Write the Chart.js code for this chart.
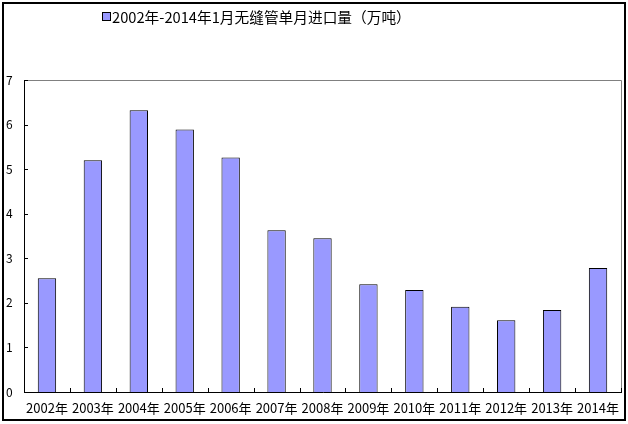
<!DOCTYPE html>
<html>
<head>
<meta charset="utf-8">
<script src="https://cdn.jsdelivr.net/npm/chart.js@4/dist/chart.umd.min.js"></script>
<style>
  html, body { margin: 0; padding: 0; background: #ffffff; }
  #wrap { width: 628px; height: 424px; position: relative; }
</style>
</head>
<body>
<div id="wrap"><canvas id="c" width="628" height="424"></canvas></div>
<script>
// Monthly seamless pipe imports, January of each year (10k tonnes)
const years = ['2002年', '2003年', '2004年', '2005年', '2006年', '2007年', '2008年',
               '2009年', '2010年', '2011年', '2012年', '2013年', '2014年'];
const imports = [2.55, 5.20, 6.32, 5.89, 5.26, 3.63, 3.45, 2.42, 2.29, 1.91, 1.61, 1.84, 2.78];
const seriesName = '2002年-2014年1月无缝管单月进口量（万吨）';
const yTicks = [0, 1, 2, 3, 4, 5, 6, 7];

const FONT = '"Noto Sans CJK SC", "Noto Sans", sans-serif';
const BAR_FILL = '#9999ff';

// Outer frame, plot-area edges, inward tick marks and the legend
const decor = {
  id: 'decor',
  afterDraw(chart) {
    const ctx = chart.ctx;
    const a = chart.chartArea;
    const y = chart.scales.y;
    ctx.save();
    // outer frame
    ctx.strokeStyle = '#000';
    ctx.lineWidth = 2;
    ctx.strokeRect(3, 3, 622, 417);
    // grey top and right edges of the plot area
    ctx.lineWidth = 1;
    ctx.strokeStyle = '#808080';
    ctx.beginPath();
    ctx.moveTo(Math.round(a.left) + 0.5, Math.round(a.top) + 0.5);
    ctx.lineTo(Math.round(a.right) + 0.5, Math.round(a.top) + 0.5);
    ctx.lineTo(Math.round(a.right) + 0.5, Math.round(a.bottom) + 0.5);
    ctx.stroke();
    // black axes
    ctx.strokeStyle = '#000';
    ctx.beginPath();
    ctx.moveTo(Math.round(a.left) + 0.5, Math.round(a.top));
    ctx.lineTo(Math.round(a.left) + 0.5, Math.round(a.bottom) + 0.5);
    ctx.lineTo(Math.round(a.right) + 1, Math.round(a.bottom) + 0.5);
    ctx.stroke();
    // y ticks pointing into the plot
    ctx.beginPath();
    yTicks.forEach(v => {
      const py = Math.round(y.getPixelForValue(v)) + 0.5;
      ctx.moveTo(Math.round(a.left), py);
      ctx.lineTo(Math.round(a.left) + 4, py);
    });
    // x ticks at category boundaries, pointing up
    const n = years.length;
    const step = (a.right - a.left) / n;
    for (let i = 0; i <= n; i++) {
      const px = Math.round(a.left + step * i) + 0.5;
      ctx.moveTo(px, Math.round(a.bottom));
      ctx.lineTo(px, Math.round(a.bottom) - 4);
    }
    ctx.stroke();
    // legend
    const ds = chart.data.datasets[0];
    ctx.fillStyle = ds.backgroundColor;
    ctx.fillRect(102.5, 12.5, 8, 8);
    ctx.strokeStyle = '#000';
    ctx.strokeRect(102.5, 12.5, 8, 8);
    ctx.fillStyle = '#000';
    ctx.font = '14.7px ' + FONT;
    ctx.textBaseline = 'middle';
    ctx.textAlign = 'left';
    ctx.fillText(ds.label, 112, 17);
    ctx.restore();
  }
};

new Chart(document.getElementById('c'), {
  type: 'bar',
  data: {
    labels: years,
    datasets: [{
      label: seriesName,
      data: imports,
      backgroundColor: BAR_FILL,
      borderColor: '#000',
      borderWidth: 1,
      categoryPercentage: 1,
      barPercentage: 0.4
    }]
  },
  options: {
    responsive: false,
    animation: false,
    devicePixelRatio: 1,
    layout: { padding: { left: 6, right: 7, top: 80, bottom: 0 } },
    plugins: {
      legend: { display: false },
      tooltip: { enabled: false }
    },
    scales: {
      x: {
        grid: { display: false },
        border: { display: false },
        ticks: {
          color: '#000',
          font: { family: FONT, size: 13, lineHeight: 1 },
          padding: 2,
          maxRotation: 0,
          autoSkip: false
        },
        afterFit(s) { s.height = 32; }
      },
      y: {
        min: 0,
        max: 7,
        grid: { display: false },
        border: { display: false },
        afterBuildTicks(s) { s.ticks = yTicks.map(v => ({ value: v })); },
        ticks: {
          color: '#000',
          font: { family: FONT, size: 12 },
          crossAlign: 'far',
          padding: 0
        },
        afterFit(s) { s.width = 18; }
      }
    }
  },
  plugins: [decor]
});
</script>
</body>
</html>
